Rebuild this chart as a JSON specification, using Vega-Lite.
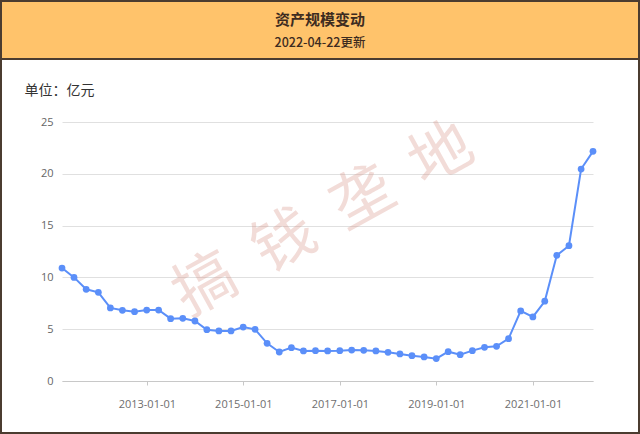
{
  "$schema": "https://vega.github.io/schema/vega-lite/v6.json",
  "background": "#4b3c30",
  "padding": 2,
  "spacing": 2,
  "config": {
    "view": {"stroke": null},
    "font": "Noto Sans CJK SC",
    "axis": {"labelFont": "Open Sans", "labelFontSize": 11}
  },
  "vconcat": [
    {
      "width": 636,
      "height": 56,
      "view": {"fill": "#FFC36B", "stroke": null},
      "data": {"values": [{"title": "资产规模变动", "subtitle": "2022-04-22更新"}]},
      "layer": [
        {
          "mark": {"type": "text", "fontSize": 15, "fontWeight": "bold", "color": "#3d2b1f", "dy": -10, "font": "Noto Sans CJK SC"},
          "encoding": {"text": {"field": "title"}}
        },
        {
          "mark": {"type": "text", "fontSize": 12.5, "fontWeight": 500, "color": "#3d2b1f", "dy": 13, "font": "Noto Sans CJK SC"},
          "encoding": {"text": {"field": "subtitle"}}
        }
      ]
    },
    {
      "width": 636,
      "height": 372,
      "view": {"fill": "#ffffff", "stroke": null},
      "layer": [
        {
          "data": {"values": [{"wm": "搞\u00a0\u00a0钱\u00a0\u00a0垄\u00a0\u00a0地"}]},
          "mark": {"type": "text", "fontSize": 62, "angle": 331, "color": "#d9968a", "opacity": 0.33, "font": "Noto Sans CJK SC"},
          "encoding": {
            "text": {"field": "wm"},
            "x": {"datum": {"year": 2016, "month": 9, "date": 1}, "type": "temporal"},
            "y": {"datum": 15.5, "type": "quantitative"}
          }
        },
        {
          "data": {"values": [
            {"date": "2011-03-31", "value": 10.9},
            {"date": "2011-06-30", "value": 10.0},
            {"date": "2011-09-30", "value": 8.85},
            {"date": "2011-12-31", "value": 8.56},
            {"date": "2012-03-31", "value": 7.05},
            {"date": "2012-06-30", "value": 6.82},
            {"date": "2012-09-30", "value": 6.69},
            {"date": "2012-12-31", "value": 6.85},
            {"date": "2013-03-31", "value": 6.85},
            {"date": "2013-06-30", "value": 6.02},
            {"date": "2013-09-30", "value": 6.05},
            {"date": "2013-12-31", "value": 5.79},
            {"date": "2014-03-31", "value": 4.95},
            {"date": "2014-06-30", "value": 4.83},
            {"date": "2014-09-30", "value": 4.83},
            {"date": "2014-12-31", "value": 5.21},
            {"date": "2015-03-31", "value": 4.99},
            {"date": "2015-06-30", "value": 3.64},
            {"date": "2015-09-30", "value": 2.80},
            {"date": "2015-12-31", "value": 3.22},
            {"date": "2016-03-31", "value": 2.90},
            {"date": "2016-06-30", "value": 2.93},
            {"date": "2016-09-30", "value": 2.90},
            {"date": "2016-12-31", "value": 2.93},
            {"date": "2017-03-31", "value": 2.99},
            {"date": "2017-06-30", "value": 2.96},
            {"date": "2017-09-30", "value": 2.90},
            {"date": "2017-12-31", "value": 2.77},
            {"date": "2018-03-31", "value": 2.61},
            {"date": "2018-06-30", "value": 2.44},
            {"date": "2018-09-30", "value": 2.32},
            {"date": "2018-12-31", "value": 2.16},
            {"date": "2019-03-31", "value": 2.83},
            {"date": "2019-06-30", "value": 2.54},
            {"date": "2019-09-30", "value": 2.93},
            {"date": "2019-12-31", "value": 3.25},
            {"date": "2020-03-31", "value": 3.35},
            {"date": "2020-06-30", "value": 4.09},
            {"date": "2020-09-30", "value": 6.76},
            {"date": "2020-12-31", "value": 6.18},
            {"date": "2021-03-31", "value": 7.70},
            {"date": "2021-06-30", "value": 12.13},
            {"date": "2021-09-30", "value": 13.06},
            {"date": "2021-12-31", "value": 20.46},
            {"date": "2022-03-31", "value": 22.17}
          ]},
          "mark": {"type": "line", "color": "#5b8ff9", "strokeWidth": 2, "point": {"filled": true, "size": 46, "color": "#5b8ff9", "opacity": 1}},
          "encoding": {
            "x": {
              "field": "date",
              "type": "temporal",
              "scale": {"range": [60, 591], "nice": false},
              "axis": {
                "title": null,
                "grid": false,
                "values": [
                  {"year": 2013, "month": 1, "date": 1},
                  {"year": 2015, "month": 1, "date": 1},
                  {"year": 2017, "month": 1, "date": 1},
                  {"year": 2019, "month": 1, "date": 1},
                  {"year": 2021, "month": 1, "date": 1}
                ],
                "format": "%Y-%m-%d",
                "labelColor": "#6e6e6e",
                "domainColor": "#c8c8c8",
                "tickColor": "#c8c8c8",
                "tickSize": 4,
                "labelPadding": 13,
                "offset": -51
              }
            },
            "y": {
              "field": "value",
              "type": "quantitative",
              "scale": {"domain": [0, 25], "range": [321, 62], "nice": false},
              "axis": {
                "values": [0, 5, 10, 15, 20, 25],
                "domain": false,
                "ticks": false,
                "tickSize": 0,
                "grid": true,
                "gridColor": "#e0e0e0",
                "labelColor": "#666666",
                "labelPadding": 9,
                "offset": -60,
                "title": "单位：亿元",
                "titleAngle": 0,
                "titleAlign": "left",
                "titleBaseline": "middle",
                "titleX": -38,
                "titleY": 30,
                "titleFontSize": 14,
                "titleFontWeight": "normal",
                "titleColor": "#333333",
                "titleFont": "Noto Sans CJK SC"
              }
            }
          }
        }
      ]
    }
  ]
}
